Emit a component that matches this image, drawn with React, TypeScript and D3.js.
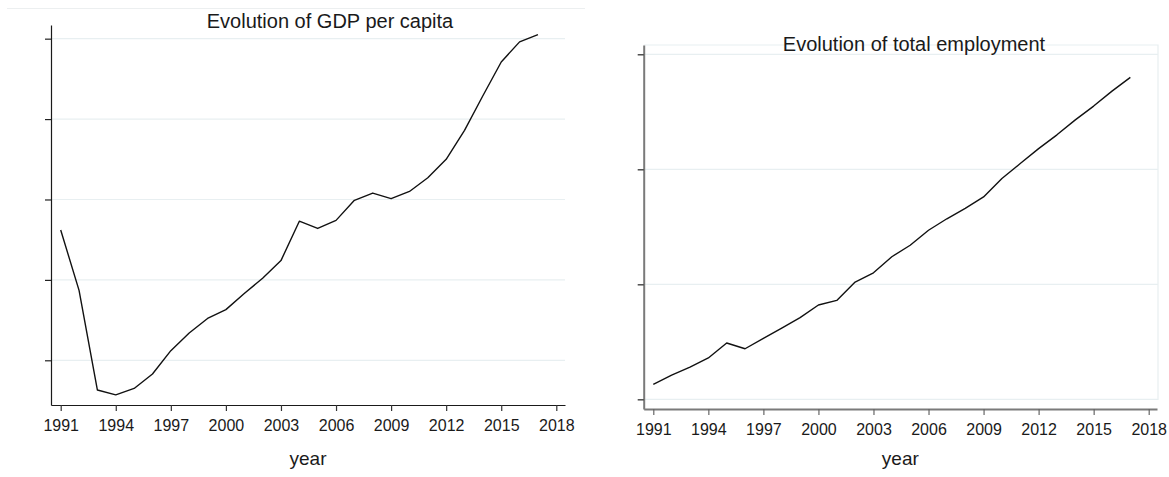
import * as d3 from "d3";
import React, { useEffect, useRef } from "react";

// years on the x axis
const years = [
  1991, 1992, 1993, 1994, 1995, 1996, 1997, 1998, 1999, 2000, 2001, 2002, 2003,
  2004, 2005, 2006, 2007, 2008, 2009, 2010, 2011, 2012, 2013, 2014, 2015, 2016,
  2017,
];

// GDP per capita (arbitrary units, axis labels are hidden in the source)
const gdpValues = [
  2.62, 1.87, 0.63, 0.57, 0.65, 0.83, 1.12, 1.34, 1.52, 1.63, 1.83, 2.02, 2.24,
  2.73, 2.64, 2.74, 2.99, 3.08, 3.01, 3.1, 3.27, 3.5, 3.86, 4.29, 4.71, 4.96,
  5.05,
];

// total employment (arbitrary units)
const employmentValues = [
  1.13, 1.21, 1.28, 1.36, 1.49, 1.44, 1.53, 1.62, 1.71, 1.82, 1.86, 2.02, 2.1,
  2.24, 2.34, 2.47, 2.57, 2.66, 2.76, 2.92, 3.05, 3.18, 3.3, 3.43, 3.55, 3.68,
  3.8,
];

const xTicks = [1991, 1994, 1997, 2000, 2003, 2006, 2009, 2012, 2015, 2018];
const gdpTicks = [1, 2, 3, 4, 5];
const employmentTicks = [1, 2, 3, 4];

type Panel = {
  title: string;
  values: number[];
  yTicks: number[];
  yDomain: [number, number];
  left: number;
  right: number;
  top: number;
  bottom: number;
  firstTickX: number;
  lastTickX: number;
  titleX: number;
  titleY: number;
  axisColor: string;
  axisWidth: number;
  frame: boolean;
};

const panels: Panel[] = [
  {
    title: "Evolution of GDP per capita",
    values: gdpValues,
    yTicks: gdpTicks,
    yDomain: [0.444, 5.17],
    left: 51,
    right: 565,
    top: 25,
    bottom: 405,
    firstTickX: 60.7,
    lastTickX: 556.3,
    titleX: 330,
    titleY: 28,
    axisColor: "#1a1a1a",
    axisWidth: 1.2,
    frame: false,
  },
  {
    title: "Evolution of total employment",
    values: employmentValues,
    yTicks: employmentTicks,
    yDomain: [0.916, 4.081],
    left: 643.7,
    right: 1157,
    top: 45,
    bottom: 409,
    firstTickX: 653.3,
    lastTickX: 1148.7,
    titleX: 914,
    titleY: 51,
    axisColor: "#7a7a7a",
    axisWidth: 2,
    frame: true,
  },
];

const FONT = "'Liberation Sans', Arial, Helvetica, sans-serif";

const App: React.FC = () => {
  const svgRef = useRef<SVGSVGElement | null>(null);

  useEffect(() => {
    const svg = d3.select(svgRef.current);
    svg.selectAll("*").remove();

    // faint outer line on top of the left graph
    svg
      .append("line")
      .attr("x1", 7)
      .attr("x2", 585)
      .attr("y1", 8.5)
      .attr("y2", 8.5)
      .attr("stroke", "#eceff0")
      .attr("stroke-width", 1);

    panels.forEach((p) => drawPanel(svg, p));
  }, []);

  const drawPanel = (
    svg: d3.Selection<SVGSVGElement | null, unknown, null, undefined>,
    p: Panel
  ) => {
    const g = svg.append("g");

    const x = d3
      .scaleLinear()
      .domain([1991, 2018])
      .range([p.firstTickX, p.lastTickX]);
    const xAxisScale = x
      .copy()
      .domain([x.invert(p.left), x.invert(p.right)])
      .range([p.left, p.right]);
    const y = d3.scaleLinear().domain(p.yDomain).range([p.bottom, p.top]);

    // gridlines
    g.selectAll(".grid")
      .data(p.yTicks)
      .enter()
      .append("line")
      .attr("class", "grid")
      .attr("x1", p.left)
      .attr("x2", p.frame ? p.right + 1 : p.right)
      .attr("y1", (d) => y(d))
      .attr("y2", (d) => y(d))
      .attr("stroke", "#e8eff1")
      .attr("stroke-width", 1.2);

    if (p.frame) {
      g.append("path")
        .attr("d", `M${p.left},${p.top}H${p.right + 1}V${p.bottom - 9}`)
        .attr("fill", "none")
        .attr("stroke", "#e8eff1")
        .attr("stroke-width", 1.2);
    }

    // y axis (labels hidden)
    const yAxis = g
      .append("g")
      .attr("transform", `translate(${p.left},0)`)
      .call(
        d3
          .axisLeft(y)
          .tickValues(p.yTicks)
          .tickSize(6)
          .tickSizeOuter(0)
          .tickFormat(() => "")
      );
    yAxis
      .select(".domain")
      .attr("stroke", p.axisColor)
      .attr("stroke-width", p.axisWidth);
    yAxis.selectAll(".tick line").attr("stroke", "#222").attr("stroke-width", 1.2);

    // x axis
    const xAxis = g
      .append("g")
      .attr("transform", `translate(0,${p.bottom})`)
      .call(
        d3
          .axisBottom(xAxisScale)
          .tickValues(xTicks)
          .tickSize(6)
          .tickSizeOuter(0)
          .tickPadding(9)
          .tickFormat((d) => String(d))
      );
    xAxis
      .select(".domain")
      .attr("stroke", p.axisColor)
      .attr("stroke-width", p.axisWidth);
    xAxis
      .selectAll(".tick line")
      .attr("stroke", p.frame ? "#666" : "#333")
      .attr("stroke-width", 1.2);
    xAxis
      .selectAll(".tick text")
      .attr("fill", "#1a1a1a")
      .style("font-family", FONT)
      .style("font-size", "16px");

    // the series
    const line = d3
      .line<number>()
      .x((_, i) => x(years[i]))
      .y((d) => y(d));
    g.append("path")
      .datum(p.values)
      .attr("d", line)
      .attr("fill", "none")
      .attr("stroke", "#111")
      .attr("stroke-width", 1.4)
      .attr("stroke-linejoin", "round");

    // titles
    g.append("text")
      .attr("x", p.titleX)
      .attr("y", p.titleY)
      .attr("text-anchor", "middle")
      .attr("fill", "#1a1a1a")
      .style("font-family", FONT)
      .style("font-size", "20px")
      .text(p.title);

    g.append("text")
      .attr("x", (p.left + p.right) / 2)
      .attr("y", 465)
      .attr("text-anchor", "middle")
      .attr("fill", "#1a1a1a")
      .style("font-family", FONT)
      .style("font-size", "19px")
      .text("year");
  };

  return (
    <svg
      ref={svgRef}
      width={1169}
      height={477}
      style={{ position: "absolute", left: 0, top: 0, background: "#fff" }}
    ></svg>
  );
};

export default App;
